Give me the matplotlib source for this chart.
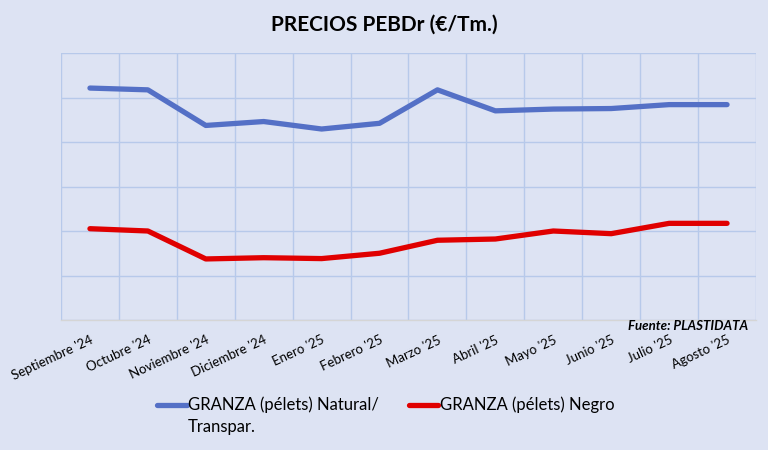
import matplotlib.pyplot as plt
from matplotlib.lines import Line2D
from matplotlib.ticker import MultipleLocator

plt.rcParams['font.family'] = ['Lato', 'DejaVu Sans']

meses = ["Septiembre '24", "Octubre '24", "Noviembre '24", "Diciembre '24",
         "Enero '25", "Febrero '25", "Marzo '25", "Abril '25", "Mayo '25",
         "Junio '25", "Julio '25", "Agosto '25"]
natural = [1303, 1293, 1093, 1115, 1073, 1105, 1293, 1175, 1185, 1188, 1210, 1210]
negro = [513, 500, 343, 350, 345, 375, 448, 455, 500, 485, 543, 543]

bg = "#dde3f3"
grid_c = "#b7c9ea"
c_nat = "#5470c6"
c_neg = "#e00000"

W, H = 768, 450
fig = plt.figure(figsize=(7.68, 4.5), dpi=100, facecolor=bg)
ax = fig.add_axes([61/W, 130/H, 695/W, 267/H], facecolor=bg)

x = range(len(meses))
ax.plot(x, natural, color=c_nat, lw=3.8, solid_capstyle="round")
ax.plot(x, negro, color=c_neg, lw=3.8, solid_capstyle="round")

ax.set_xlim(-0.5, len(meses) - 0.5)
ax.set_ylim(0, 1500)
ax.yaxis.set_major_locator(MultipleLocator(250))
ax.set_xticks([i + 0.5 for i in range(-1, len(meses))])
ax.set_xticklabels([])
ax.set_xticks(list(x), minor=True)
ax.set_xticklabels(meses, minor=True, rotation=25, ha="right",
                   rotation_mode="anchor", fontsize=9.5)
ax.tick_params(axis="x", which="both", length=0, pad=10)
ax.tick_params(axis="y", length=0, labelleft=False)
ax.grid(True, which="major", color=grid_c, lw=1)
for s in ["left", "right", "top"]:
    ax.spines[s].set_visible(False)
ax.spines["bottom"].set_color("#d5d5d5")
ax.spines["bottom"].set_linewidth(1)

fig.text(384/W, 1 - 25/H, "PRECIOS PEBDr (€/Tm.)", ha="center", va="center",
         fontsize=15, fontweight="bold", color="#000000")
fig.text(748/W, 1 - 326/H, "Fuente: PLASTIDATA", ha="right", va="center",
         fontsize=9.5, fontweight="bold", fontstyle="italic", color="#000000")

# legend, drawn by hand so the handle sits on the first text line
def fy(py):
    return 1 - py / H

fig.add_artist(Line2D([157/W, 187/W], [fy(405), fy(405)], color=c_nat, lw=3.8,
                      solid_capstyle="round"))
fig.text(188/W, fy(405), "GRANZA (pélets) Natural/", ha="left", va="center",
         fontsize=12)
fig.text(188/W, fy(427), "Transpar.", ha="left", va="center", fontsize=12)
fig.add_artist(Line2D([409/W, 438/W], [fy(405), fy(405)], color=c_neg, lw=3.8,
                      solid_capstyle="round"))
fig.text(440/W, fy(405), "GRANZA (pélets) Negro", ha="left", va="center",
         fontsize=12)

fig.savefig("out.png", dpi=100, facecolor=bg)
